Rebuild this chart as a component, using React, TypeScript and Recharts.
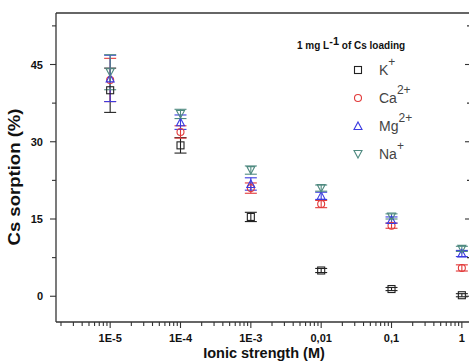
import {
  ScatterChart,
  Scatter,
  XAxis,
  YAxis,
  ErrorBar,
} from "recharts";

// ionic strength (M)
const IONIC = [1e-5, 1e-4, 1e-3, 0.01, 0.1, 1];
const X_LABELS = ["1E-5", "1E-4", "1E-3", "0,01", "0,1", "1"];
const Y_MAJOR = [0, 15, 30, 45];
const Y_MINOR = [7.5, 22.5, 37.5, 52.5];

// Cs sorption (%) per competing cation
const K_VALUES = [40.0, 29.3, 15.4, 5.0, 1.4, 0.2];
const K_ERR = [4.3, 1.5, 0.9, 0.4, 0.3, 0.3];
const CA_VALUES = [42.0, 31.9, 21.0, 17.9, 13.7, 5.5];
const CA_ERR = [4.2, 1.2, 1.0, 0.7, 0.5, 0.6];
const MG_VALUES = [42.3, 33.8, 21.8, 19.5, 14.8, 8.3];
const MG_ERR = [4.5, 1.4, 1.2, 0.7, 0.6, 0.6];
const NA_VALUES = [43.5, 35.4, 24.5, 21.0, 15.5, 9.2];
const NA_ERR = [3.4, 0.9, 0.8, 0.6, 0.5, 0.5];

const X_DOMAIN = [Math.pow(10, -5.77), Math.pow(10, 0.13)];
const Y_DOMAIN = [-5, 55];

const FONT = "'Liberation Sans', Arial, sans-serif";
const AXIS = "#333";

type Marker = "square" | "circle" | "up" | "down";

const SERIES: {
  name: string;
  sup: string;
  color: string;
  marker: Marker;
  values: number[];
  err: number[];
}[] = [
  { name: "K", sup: "+", color: "#222", marker: "square", values: K_VALUES, err: K_ERR },
  { name: "Ca", sup: "2+", color: "#e23a3a", marker: "circle", values: CA_VALUES, err: CA_ERR },
  { name: "Mg", sup: "2+", color: "#3a3ae0", marker: "up", values: MG_VALUES, err: MG_ERR },
  { name: "Na", sup: "+", color: "#4f8a80", marker: "down", values: NA_VALUES, err: NA_ERR },
];

// tick positions for log axis: 1..9 x 10^k inside the domain
const X_TICKS: number[] = [];
for (let k = -6; k <= 0; k++) {
  for (let m = 1; m <= 9; m++) {
    const v = m * Math.pow(10, k);
    if (v >= X_DOMAIN[0] && v <= X_DOMAIN[1]) X_TICKS.push(v);
  }
}
const Y_TICKS = [...Y_MAJOR, ...Y_MINOR].sort((a, b) => a - b);

function isDecade(v: number) {
  const l = Math.log10(v);
  return Math.abs(l - Math.round(l)) < 1e-6;
}

function MarkerShape({ type, cx, cy, color }: { type: Marker; cx: number; cy: number; color: string }) {
  const r = 3.5;
  if (type === "square")
    return <rect x={cx - r} y={cy - r} width={r * 2} height={r * 2} fill="none" stroke={color} strokeWidth={1.1} />;
  if (type === "circle")
    return <circle cx={cx} cy={cy} r={r} fill="none" stroke={color} strokeWidth={1.1} />;
  if (type === "up")
    return (
      <polygon
        points={`${cx},${cy - r - 0.5} ${cx + r + 0.5},${cy + r} ${cx - r - 0.5},${cy + r}`}
        fill="none"
        stroke={color}
        strokeWidth={1.1}
      />
    );
  return (
    <polygon
      points={`${cx},${cy + r + 0.5} ${cx + r + 0.5},${cy - r} ${cx - r - 0.5},${cy - r}`}
      fill="none"
      stroke={color}
      strokeWidth={1.1}
    />
  );
}

function BottomTick({ x, y, payload }: any) {
  const major = isDecade(payload.value);
  const idx = Math.round(Math.log10(payload.value)) + 5;
  return (
    <g>
      <line x1={x} x2={x} y1={y} y2={y + (major ? 6 : 4)} stroke={AXIS} strokeWidth={1.1} />
      {major && (
        <text x={x} y={y + 20} textAnchor="middle" fontFamily={FONT} fontWeight="bold" fontSize={11} fill="#111">
          {X_LABELS[idx]}
        </text>
      )}
    </g>
  );
}

function TopTick({ x, y, payload }: any) {
  const major = isDecade(payload.value);
  return <line x1={x} x2={x} y1={y} y2={y + (major ? 6 : 4)} stroke={AXIS} strokeWidth={1.1} />;
}

function LeftTick({ x, y, payload }: any) {
  const major = Y_MAJOR.includes(payload.value);
  return (
    <g>
      <line x1={x} x2={x - (major ? 6 : 4)} y1={y} y2={y} stroke={AXIS} strokeWidth={1.1} />
      {major && (
        <text x={x - 13} y={y + 4} textAnchor="end" fontFamily={FONT} fontWeight="bold" fontSize={11} fill="#111">
          {payload.value}
        </text>
      )}
    </g>
  );
}

function RightTick({ x, y, payload }: any) {
  const major = Y_MAJOR.includes(payload.value);
  return <line x1={x} x2={x - (major ? 6 : 4)} y1={y} y2={y} stroke={AXIS} strokeWidth={1.1} />;
}

function Legend() {
  return (
    <svg width={469} height={362} style={{ position: "absolute", left: 0, top: 0, pointerEvents: "none" }}>
      <text x={297} y={49} fontFamily={FONT} fontWeight="bold" fontSize={10} fill="#111">
        1 mg L
        <tspan dy={-4} fontSize={11}>-1</tspan>
        <tspan dy={4}> of Cs loading</tspan>
      </text>
      {SERIES.map((s, i) => {
        const cy = 70 + i * 28;
        return (
          <g key={s.name}>
            <MarkerShape type={s.marker} cx={358} cy={cy} color={s.color} />
            <text x={379} y={cy + 5} fontFamily={FONT} fontSize={14} fill="#444">
              {s.name}
              <tspan dy={-9} fontSize={12}>{s.sup}</tspan>
            </text>
          </g>
        );
      })}
    </svg>
  );
}

export default function App() {
  const data = SERIES.map((s) =>
    IONIC.map((x, i) => ({ x, y: s.values[i], err: s.err[i] }))
  );

  return (
    <div style={{ position: "absolute", left: 0, top: 0, width: 469, height: 362, overflow: "hidden", background: "#fff" }}>
      <ScatterChart width={472} height={362} margin={{ top: 0, right: 0, bottom: 0, left: 0 }}>
        <XAxis
          xAxisId="bottom"
          dataKey="x"
          type="number"
          scale="log"
          domain={X_DOMAIN}
          allowDataOverflow
          ticks={X_TICKS}
          interval={0}
          tickSize={0}
          tickMargin={0}
          tick={<BottomTick />}
          height={40}
          axisLine={{ stroke: AXIS, strokeWidth: 1.3 }}
        />
        <XAxis
          xAxisId="top"
          orientation="top"
          type="number"
          scale="log"
          domain={X_DOMAIN}
          allowDataOverflow
          ticks={X_TICKS}
          interval={0}
          tickSize={0}
          tickMargin={0}
          tick={<TopTick />}
          height={13}
          axisLine={{ stroke: AXIS, strokeWidth: 1.3 }}
        />
        <YAxis
          yAxisId="left"
          dataKey="y"
          type="number"
          domain={Y_DOMAIN}
          allowDataOverflow
          ticks={Y_TICKS}
          interval={0}
          tickSize={0}
          tickMargin={0}
          tick={<LeftTick />}
          width={56}
          axisLine={{ stroke: AXIS, strokeWidth: 1.3 }}
        />
        <YAxis
          yAxisId="right"
          orientation="right"
          type="number"
          domain={Y_DOMAIN}
          allowDataOverflow
          ticks={Y_TICKS}
          interval={0}
          tickSize={0}
          tickMargin={0}
          tick={<RightTick />}
          width={1}
          axisLine={{ stroke: AXIS, strokeWidth: 1.3 }}
        />
        {SERIES.map((s, i) => (
          <Scatter
            key={s.name}
            name={s.name}
            data={data[i]}
            xAxisId="bottom"
            yAxisId="left"
            isAnimationActive={false}
            shape={(p: any) => <MarkerShape type={s.marker} cx={p.cx} cy={p.cy} color={s.color} />}
          >
            <ErrorBar dataKey="err" direction="y" width={6} stroke={s.color} strokeWidth={1.1} />
          </Scatter>
        ))}
        <text
          x={20}
          y={177}
          transform="rotate(-90 20 177)"
          textAnchor="middle"
          fontFamily={FONT}
          fontWeight="bold"
          fontSize={16}
          fill="#111"
          textLength={137}
          lengthAdjust="spacingAndGlyphs"
        >
          Cs sorption (%)
        </text>
        <text x={264} y={358} textAnchor="middle" fontFamily={FONT} fontWeight="bold" fontSize={14.5} fill="#111">
          Ionic strength (M)
        </text>
      </ScatterChart>
      <Legend />
    </div>
  );
}
